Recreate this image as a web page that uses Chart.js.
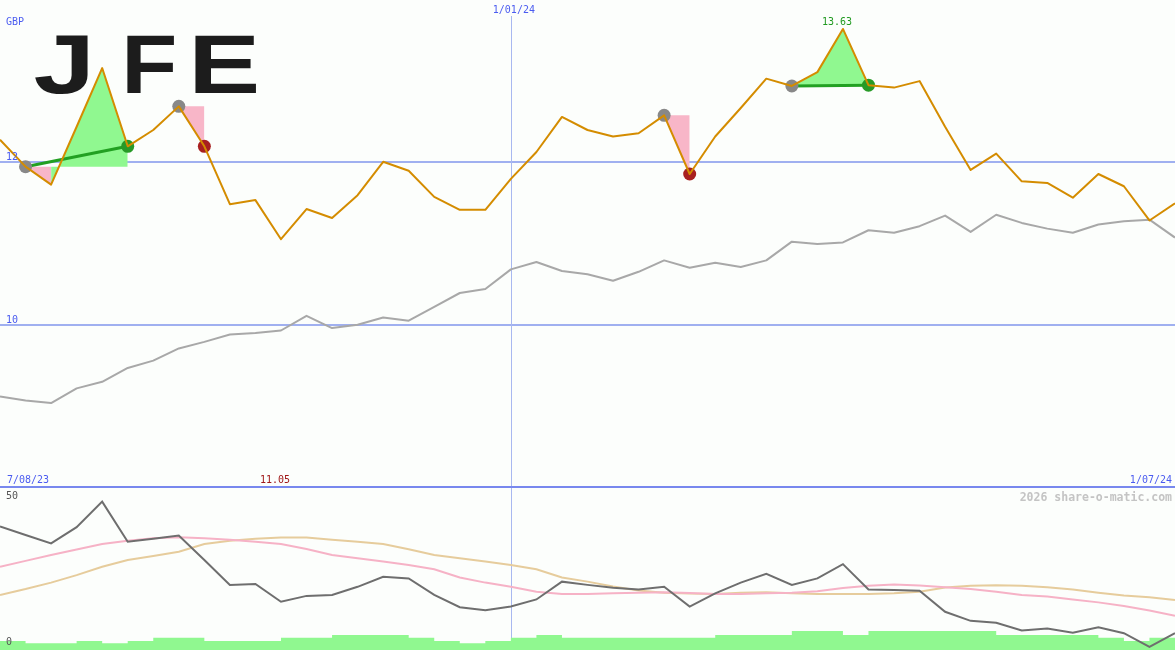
<!DOCTYPE html>
<html>
<head>
<meta charset="utf-8">
<script src="https://cdn.jsdelivr.net/npm/chart.js@4.4.1/dist/chart.umd.min.js"></script>
<style>
  html, body { margin: 0; padding: 0; background: #fcfefc; }
  #wrap { position: relative; width: 1175px; height: 650px; overflow: hidden; background: #fcfefc; }
  #top { position: absolute; left: 0; top: 0; }
  #sep { position: absolute; left: 0; top: 486px; width: 1175px; height: 2px; background: #7888ee; }
  #bottom { position: absolute; left: 0; top: 488px; }
</style>
</head>
<body>
<div id="wrap">
  <canvas id="top" width="1175" height="486"></canvas>
  <div id="sep"></div>
  <canvas id="bottom" width="1175" height="162"></canvas>
</div>
<script>
// weekly closes, JFE (GBP)
var weeks = ['14/08/23', '21/08/23', '28/08/23', '4/09/23', '11/09/23', '18/09/23', '25/09/23', '2/10/23', '9/10/23', '16/10/23',
             '23/10/23', '30/10/23', '6/11/23', '13/11/23', '20/11/23', '27/11/23', '4/12/23', '11/12/23', '18/12/23', '25/12/23',
             '1/01/24', '8/01/24', '15/01/24', '22/01/24', '29/01/24', '5/02/24', '12/02/24', '19/02/24', '26/02/24', '4/03/24',
             '11/03/24', '18/03/24', '25/03/24', '1/04/24', '8/04/24', '15/04/24', '22/04/24', '29/04/24', '6/05/24', '13/05/24',
             '20/05/24', '27/05/24', '3/06/24', '10/06/24', '17/06/24', '24/06/24', '1/07/24'];
var price = [12.27, 11.94, 11.72, 12.43, 13.15, 12.19, 12.39, 12.68, 12.19, 11.48,
             11.53, 11.05, 11.42, 11.31, 11.59, 12.00, 11.89, 11.57, 11.41, 11.41,
             11.79, 12.12, 12.55, 12.39, 12.31, 12.35, 12.57, 11.85, 12.31, 12.66,
             13.02, 12.93, 13.10, 13.63, 12.94, 12.91, 12.99, 12.43, 11.90, 12.10,
             11.76, 11.74, 11.56, 11.85, 11.70, 11.28, 11.49];
var average = [9.12, 9.07, 9.04, 9.22, 9.30, 9.47, 9.56, 9.71, 9.79, 9.88,
               9.90, 9.93, 10.11, 9.96, 10.00, 10.09, 10.05, 10.22, 10.39, 10.44,
               10.68, 10.77, 10.66, 10.62, 10.54, 10.65, 10.79, 10.70, 10.76, 10.71,
               10.79, 11.02, 10.99, 11.01, 11.16, 11.13, 11.21, 11.34, 11.14, 11.35,
               11.25, 11.18, 11.13, 11.23, 11.27, 11.29, 11.07];
var oscillator = [38.1, 35.5, 32.9, 37.9, 45.8, 33.4, 34.3, 35.3, 27.8, 20.1,
                  20.4, 14.9, 16.7, 17.0, 19.5, 22.6, 22.1, 17.0, 13.2, 12.3,
                  13.4, 15.6, 21.1, 20.1, 19.2, 18.7, 19.5, 13.4, 17.5, 20.8,
                  23.5, 20.1, 22.1, 26.5, 18.7, 18.5, 18.3, 11.8, 9.0, 8.4,
                  6.0, 6.6, 5.3, 7.0, 5.2, 1.0, 5.2];
var signalFast = [25.7, 27.5, 29.3, 31.0, 32.7, 33.7, 34.5, 34.8, 34.5, 34.0,
                  33.4, 32.7, 31.2, 29.3, 28.3, 27.3, 26.2, 24.9, 22.4, 20.8,
                  19.5, 18.0, 17.3, 17.3, 17.5, 17.7, 17.8, 17.6, 17.3, 17.3,
                  17.5, 17.7, 18.1, 19.1, 19.8, 20.2, 19.9, 19.4, 18.8, 18.0,
                  17.0, 16.5, 15.6, 14.7, 13.6, 12.2, 10.6];
var signalSlow = [17.0, 18.8, 20.8, 23.1, 25.7, 27.8, 29.0, 30.3, 32.7, 33.7,
                  34.3, 34.7, 34.7, 34.0, 33.4, 32.7, 31.1, 29.3, 28.3, 27.3,
                  26.2, 24.9, 22.4, 21.1, 19.6, 18.4, 17.7, 17.4, 17.3, 17.7,
                  17.8, 17.5, 17.3, 17.3, 17.3, 17.5, 18.0, 19.3, 19.8, 20.0,
                  19.8, 19.4, 18.7, 17.7, 16.8, 16.3, 15.4];
var volume = [2.8, 2.1, 2.1, 2.8, 2.1, 2.8, 3.8, 3.8, 2.8, 2.8,
              2.8, 3.8, 3.8, 4.6, 4.6, 4.6, 3.8, 2.8, 2.1, 2.8,
              3.8, 4.6, 3.8, 3.8, 3.8, 3.8, 3.8, 3.8, 4.6, 4.6,
              4.6, 5.9, 5.9, 4.6, 5.9, 5.9, 5.9, 5.9, 5.9, 4.6,
              4.6, 4.6, 4.6, 3.8, 2.8, 3.8, 3.8];
var tradeEntry = [1, 7, 26, 31];
var tradeExit = [5, 8, 27, 34];
var priceTicks = [10, 12];
var oscTicks = [0, 50];
var ticker = 'JFE';
var currency = 'GBP';
var startLabel = '7/08/23';
var midIndex = 20;
var credit = '2026 share-o-matic.com';

var GREEN_FILL = '#90f890', PINK_FILL = '#f8b6c8';
var BLUE_TXT = '#4b5cf0', MONO = '10px "DejaVu Sans Mono"';

function only(idx, arr) {
    return weeks.map(function (w, i) { return idx.indexOf(i) >= 0 ? arr[i] : null; });
}

var topSets = [];
topSets.push({ label: 'price', data: price, borderColor: '#d48c00', borderWidth: 2, pointRadius: 0, order: 1 });
topSets.push({ label: 'entry', data: only(tradeEntry, price), showLine: false, pointRadius: 6.5,
               pointBackgroundColor: '#888888', pointBorderWidth: 0, order: 2 });
topSets.push({ label: 'exit', data: only(tradeExit, price), showLine: false, pointRadius: 6.5, pointBorderWidth: 0, order: 2,
               pointBackgroundColor: weeks.map(function (w, i) {
                   var t = tradeExit.indexOf(i);
                   return t >= 0 && price[i] >= price[tradeEntry[t]] ? '#279a27' : '#a82020';
               }) });
tradeEntry.forEach(function (e, t) {
    var x = tradeExit[t], base = price[e];
    var span = weeks.map(function (w, i) { return i >= e && i <= x ? price[i] : null; });
    if (price[x] >= base) {
        topSets.push({ label: 'trend' + t, data: only([e, x], price), spanGaps: true, borderColor: '#22a022',
                       borderWidth: 3, pointRadius: 0, order: 3 });
    }
    topSets.push({ label: 'trade' + t, data: span, borderColor: 'transparent', borderWidth: 0, pointRadius: 0,
                   backgroundColor: GREEN_FILL, fill: { value: base }, order: 5,
                   segment: { backgroundColor: function (c) { return c.p1.parsed.y >= base ? GREEN_FILL : PINK_FILL; } } });
});
topSets.push({ label: 'average', data: average, borderColor: '#a8a8a8', borderWidth: 2, pointRadius: 0, order: 4 });

function text(ctx, s, x, y, color, align, font) {
    ctx.save();
    ctx.font = font || MONO;
    ctx.fillStyle = color;
    ctx.textAlign = align || 'left';
    ctx.textBaseline = 'alphabetic';
    ctx.fillText(s, x, y);
    ctx.restore();
}

function drawLogo(ctx) {
    var boxes = [[35, 89], [127, 174], [195, 257]];
    ctx.save();
    ctx.fillStyle = '#1c1c1c';
    ctx.font = 'bold 80px "Liberation Sans"';
    ticker.split('').forEach(function (ch, k) {
        var m = ctx.measureText(ch);
        var inkW = m.actualBoundingBoxLeft + m.actualBoundingBoxRight;
        ctx.save();
        ctx.translate(boxes[k][0], 92.5);
        ctx.scale((boxes[k][1] - boxes[k][0]) / inkW, 57.5 / m.actualBoundingBoxAscent);
        ctx.fillText(ch, m.actualBoundingBoxLeft, 0);
        ctx.restore();
    });
    ctx.restore();
}

var topMarks = {
    id: 'topMarks',
    beforeDatasetsDraw: function (chart) {
        var ctx = chart.ctx, xs = chart.scales.x, ys = chart.scales.y;
        ctx.save();
        ctx.strokeStyle = '#a0b0f0';
        ctx.lineWidth = 2;
        priceTicks.forEach(function (v) {
            var py = Math.round(ys.getPixelForValue(v));
            ctx.beginPath(); ctx.moveTo(0, py); ctx.lineTo(chart.width, py); ctx.stroke();
        });
        var vx = Math.round(xs.getPixelForValue(midIndex)) + 0.5;
        ctx.strokeStyle = '#a8b8f0';
        ctx.lineWidth = 1;
        ctx.beginPath(); ctx.moveTo(vx, 16); ctx.lineTo(vx, chart.height); ctx.stroke();
        ctx.restore();
        drawLogo(ctx);
    },
    afterDraw: function (chart) {
        var ctx = chart.ctx, xs = chart.scales.x, ys = chart.scales.y;
        text(ctx, currency, 6, 25, BLUE_TXT);
        priceTicks.forEach(function (v) { text(ctx, String(v), 6, ys.getPixelForValue(v) - 2, BLUE_TXT); });
        text(ctx, weeks[midIndex], xs.getPixelForValue(midIndex) + 3, 13, BLUE_TXT, 'center');
        var hi = price.indexOf(Math.max.apply(null, price));
        var lo = price.indexOf(Math.min.apply(null, price));
        text(ctx, price[hi].toFixed(2), xs.getPixelForValue(hi) - 6, 25, '#209a20', 'center');
        text(ctx, price[lo].toFixed(2), xs.getPixelForValue(lo) - 6, 483, '#a01818', 'center');
        text(ctx, startLabel, 7, 483, BLUE_TXT);
        text(ctx, weeks[weeks.length - 1], 1172, 483, BLUE_TXT, 'right');
    }
};

new Chart(document.getElementById('top'), {
    type: 'line',
    data: { labels: weeks, datasets: topSets },
    options: {
        responsive: false,
        animation: false,
        events: [],
        layout: { padding: 0, autoPadding: false },
        elements: { line: { tension: 0, borderJoinStyle: 'round' } },
        plugins: { legend: { display: false }, tooltip: { enabled: false } },
        scales: {
            x: { display: false },
            y: { display: false, min: 8.022, max: 13.985 }
        }
    },
    plugins: [topMarks]
});

var bottomMarks = {
    id: 'bottomMarks',
    beforeDatasetsDraw: function (chart) {
        var ctx = chart.ctx;
        var vx = Math.round(chart.scales.x.getPixelForValue(midIndex)) + 0.5;
        ctx.save();
        ctx.strokeStyle = '#a8b8f0';
        ctx.lineWidth = 1;
        ctx.beginPath(); ctx.moveTo(vx, 0); ctx.lineTo(vx, chart.height); ctx.stroke();
        ctx.restore();
    },
    afterDraw: function (chart) {
        var ctx = chart.ctx, ys = chart.scales.y;
        text(ctx, String(oscTicks[1]), 6, ys.getPixelForValue(oscTicks[1]) + 11, '#555555');
        text(ctx, String(oscTicks[0]), 6, ys.getPixelForValue(oscTicks[0]) - 5, '#555555');
        text(ctx, credit, 1172, 12.5, '#c4c4c4', 'right', 'bold 11.5px "DejaVu Sans Mono"');
    }
};

new Chart(document.getElementById('bottom'), {
    type: 'line',
    data: {
        labels: weeks,
        datasets: [
            { label: 'oscillator', data: oscillator, borderColor: '#6e6e6e', borderWidth: 2, pointRadius: 0, order: 1 },
            { label: 'fast', data: signalFast, borderColor: '#f6b2c6', borderWidth: 2, pointRadius: 0, order: 2 },
            { label: 'slow', data: signalSlow, borderColor: '#e6cc9c', borderWidth: 2, pointRadius: 0, order: 3 },
            { label: 'volume', data: volume, stepped: true, fill: 'origin', backgroundColor: GREEN_FILL,
              borderColor: 'transparent', borderWidth: 0, pointRadius: 0, order: 4 }
        ]
    },
    options: {
        responsive: false,
        animation: false,
        events: [],
        layout: { padding: 0, autoPadding: false },
        elements: { line: { tension: 0 } },
        plugins: { legend: { display: false }, tooltip: { enabled: false } },
        scales: {
            x: { display: false },
            y: { display: false, min: 0, max: 50 }
        }
    },
    plugins: [bottomMarks]
});
</script>
</body>
</html>
